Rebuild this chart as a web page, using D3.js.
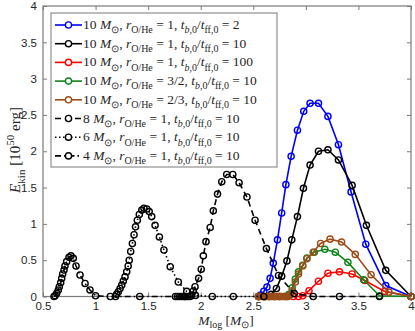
<!DOCTYPE html>
<html><head><meta charset="utf-8">
<script src="https://cdn.jsdelivr.net/npm/d3@7"></script>
<style>body{margin:0;background:#fff}svg{display:block}</style>
</head><body>
<svg id="c" width="415" height="331"></svg>
<script>
// ---- data ----
const xTicks = [0.5, 1, 1.5, 2, 2.5, 3, 3.5, 4];
const yTicks = [0, 0.5, 1, 1.5, 2, 2.5, 3, 3.5, 4];

const blue = [[2.55,0],[2.57,0.02],[2.6,0.07],[2.63,0.13],[2.66,0.25],[2.69,0.46],[2.73,0.78],[2.77,1.15],[2.81,1.54],[2.86,1.93],[2.92,2.29],[2.98,2.55],[3.04,2.66],[3.12,2.66],[3.21,2.48],[3.31,2.09],[3.43,1.44],[3.57,0.72],[3.76,0.15],[4.0,0]];
const black = [[2.55,0],[2.61,0],[2.67,0.03],[2.72,0.11],[2.77,0.28],[2.82,0.49],[2.866,0.78],[2.92,1.10],[2.977,1.49],[3.04,1.81],[3.12,2.0],[3.21,2.02],[3.31,1.88],[3.44,1.53],[3.576,0.98],[3.76,0.36],[4.0,0]];
const red = [[2.55,0],[2.6,0],[2.65,0],[2.7,0],[2.75,0],[2.82,0],[2.88,0],[2.93,0],[2.97,0.01],[3.03,0.08],[3.12,0.21],[3.21,0.32],[3.32,0.34],[3.44,0.31],[3.56,0.22],[3.75,0.07],[4.0,0]];
const green = [[2.55,0],[2.6,0],[2.65,0],[2.7,0],[2.75,0],[2.8,0],[2.84,0.03],[2.87,0.12],[2.9,0.24],[2.93,0.34],[2.97,0.43],[3.01,0.53],[3.08,0.61],[3.18,0.65],[3.28,0.61],[3.40,0.47],[3.55,0.23],[3.70,0.01],[4.0,0]];
const brown = [[2.55,0],[2.57,0],[2.59,0],[2.61,0],[2.63,0],[2.65,0],[2.67,0],[2.69,0],[2.71,0],[2.73,0],[2.75,0],[2.77,0],[2.79,0],[2.81,0],[2.83,0],[2.85,0.02],[2.87,0.08],[2.9,0.2],[2.93,0.31],[2.97,0.42],[3.01,0.52],[3.07,0.61],[3.14,0.73],[3.23,0.79],[3.34,0.75],[3.47,0.58],[3.62,0.30],[3.79,0.06],[4.0,0]];
const m8 = [[1.76,0],[1.78,0],[1.80,0],[1.82,0],[1.84,0],[1.86,0],[1.88,0],[1.90,0],[1.915,0.02],[1.93,0.076],[1.946,0.135],[1.98,0.25],[2.005,0.375],[2.025,0.56],[2.05,0.755],[2.09,0.95],[2.12,1.18],[2.16,1.41],[2.2,1.58],[2.247,1.68],[2.305,1.68],[2.365,1.567],[2.44,1.37],[2.517,1.05],[2.625,0.66],[2.74,0.29],[2.89,0.04],[3.07,0],[3.32,0],[3.7,0]];
const m6 = [[1.19,0],[1.20,0.03],[1.216,0.066],[1.233,0.11],[1.249,0.158],[1.264,0.213],[1.28,0.27],[1.296,0.34],[1.31,0.42],[1.32,0.50],[1.334,0.62],[1.35,0.73],[1.366,0.85],[1.38,0.96],[1.397,1.05],[1.416,1.13],[1.44,1.19],[1.46,1.215],[1.487,1.205],[1.51,1.17],[1.534,1.10],[1.566,0.98],[1.607,0.82],[1.65,0.64],[1.71,0.41],[1.787,0.2],[1.867,0.07],[1.95,0.015],[2.11,0],[2.31,0],[2.6,0]];
const m4 = [[0.605,0],[0.614,0.01],[0.63,0.044],[0.646,0.09],[0.655,0.135],[0.668,0.19],[0.678,0.25],[0.687,0.31],[0.70,0.365],[0.709,0.42],[0.725,0.48],[0.747,0.54],[0.766,0.56],[0.788,0.525],[0.814,0.42],[0.852,0.296],[0.90,0.18],[0.947,0.09],[1.0,0.01],[1.14,0],[1.42,0],[1.85,0]];

const seriesMass = ["10","10","10","10","10","8","6","4"];
const seriesR = ["1","1","1","3/2","2/3","1","1","1"];
const seriesT = ["2","10","100","10","10","10","10","10"];

const series = [
  {d: blue,  c: "#0000ff", dash: null},
  {d: black, c: "#000000", dash: null},
  {d: red,   c: "#ff0000", dash: null},
  {d: green, c: "#10841a", dash: null},
  {d: brown, c: "#9c4c18", dash: null},
  {d: m8,    c: "#000000", dash: "6,4"},
  {d: m6,    c: "#000000", dash: "1.5,2.5"},
  {d: m4,    c: "#000000", dash: "6,3,1.5,3"}
];

// ---- layout ----
const svg = d3.select("#c");
const L = 43, R = 411, T = 6, B = 296.5;
const x = d3.scaleLinear().domain([0.5, 4]).range([L, R]);
const y = d3.scaleLinear().domain([0, 4]).range([B, T]);
const axisCol = "#7a7a7a", txtCol = "#262626";
const tickFont = "'Liberation Sans', Arial, sans-serif";
const serif = "'Liberation Serif', 'Times New Roman', serif";

// axes with inward ticks
const gx = svg.append("g").attr("transform", `translate(0,${B})`)
  .call(d3.axisBottom(x).tickValues(xTicks).tickSizeInner(-4).tickSizeOuter(0).tickPadding(5).tickFormat(d3.format("")));
const gxt = svg.append("g").attr("transform", `translate(0,${T})`)
  .call(d3.axisTop(x).tickValues(xTicks).tickSizeInner(-4).tickSizeOuter(0).tickFormat(""));
const gy = svg.append("g").attr("transform", `translate(${L},0)`)
  .call(d3.axisLeft(y).tickValues(yTicks).tickSizeInner(-4).tickSizeOuter(0).tickPadding(6).tickFormat(d3.format("")));
const gyr = svg.append("g").attr("transform", `translate(${R},0)`)
  .call(d3.axisRight(y).tickValues(yTicks).tickSizeInner(-4).tickSizeOuter(0).tickFormat(""));
[gx, gxt, gy, gyr].forEach(g => {
  g.select(".domain").remove();
  g.selectAll("line").attr("stroke", axisCol);
  g.selectAll("text").attr("fill", txtCol).style("font-family", tickFont).style("font-size", "11.5px");
});
svg.append("rect").attr("x", L).attr("y", T).attr("width", R - L).attr("height", B - T)
  .attr("fill", "none").attr("stroke", axisCol).attr("stroke-width", 1.2);

// ---- series ----
const line = d3.line().x(d => x(d[0])).y(d => y(d[1]));
series.forEach(s => {
  const g = svg.append("g");
  g.append("path").attr("d", line(s.d)).attr("fill", "none").attr("stroke", s.c)
    .attr("stroke-width", 1.6).attr("stroke-dasharray", s.dash);
  g.selectAll("circle").data(s.d).join("circle")
    .attr("cx", d => x(d[0])).attr("cy", d => y(d[1])).attr("r", 3.1)
    .attr("fill", "none").attr("stroke", s.c).attr("stroke-width", 1.4);
});

// ---- rich text helper ----
function rich(t, parts, size, subScale, subOff) {
  let cur = 0;
  parts.forEach(p => {
    const off = p.sub ? size * subOff : (p.sup ? -size * 0.42 : 0);
    const ts = t.append("tspan").text(p.t);
    ts.attr("dy", off - cur);
    cur = off;
    ts.style("font-size", (p.sub || p.sup) ? (size * subScale) + "px" : size + "px");
    if (p.i) ts.style("font-style", "italic");
  });
}

// ---- legend ----
const lg = svg.append("g");
lg.append("rect").attr("x", 51).attr("y", 13).attr("width", 226).attr("height", 154)
  .attr("fill", "#fff").attr("stroke", axisCol).attr("stroke-width", 1);
const fs = 13.5;
series.forEach((s, i) => {
  const cy = 25 + i * 18.7;
  lg.append("line").attr("x1", 55).attr("x2", 82).attr("y1", cy).attr("y2", cy)
    .attr("stroke", s.c).attr("stroke-width", 1.6).attr("stroke-dasharray", s.dash);
  lg.append("circle").attr("cx", 68.5).attr("cy", cy).attr("r", 3.1)
    .attr("fill", "#fff").attr("stroke", s.c).attr("stroke-width", 1.4);
  const t = lg.append("text").attr("x", 83).attr("y", cy + 4)
    .style("font-family", serif).attr("fill", txtCol).attr("xml:space", "preserve");
  rich(t, [
    {t: seriesMass[i] + " "}, {t: "M", i: 1}, {t: "⊙", sub: 1}, {t: ", "},
    {t: "r", i: 1}, {t: "O/He", sub: 1}, {t: " = " + seriesR[i] + ", "},
    {t: "t", i: 1}, {t: "b", sub: 1, i: 1}, {t: ",0", sub: 1}, {t: "/"},
    {t: "t", i: 1}, {t: "ff,0", sub: 1}, {t: " = " + seriesT[i]}
  ], fs, 0.74, 0.32);
});

// ---- axis labels ----
const xl = svg.append("text").attr("x", 226).attr("y", 325).attr("text-anchor", "middle")
  .style("font-family", serif).attr("fill", txtCol);
rich(xl, [{t: "M", i: 1}, {t: "log", sub: 1}, {t: " [", }, {t: "M", i: 1}, {t: "⊙", sub: 1}, {t: "]"}], 13.5, 0.74, 0.24);

const yl = svg.append("text").attr("transform", "translate(20,150) rotate(-90)").attr("text-anchor", "middle")
  .style("font-family", serif).attr("fill", txtCol);
rich(yl, [{t: "E", i: 1}, {t: "kin", sub: 1}, {t: " [10"}, {t: "50", sup: 1}, {t: " erg]"}], 15, 0.74, 0.32);
</script>
</body></html>
